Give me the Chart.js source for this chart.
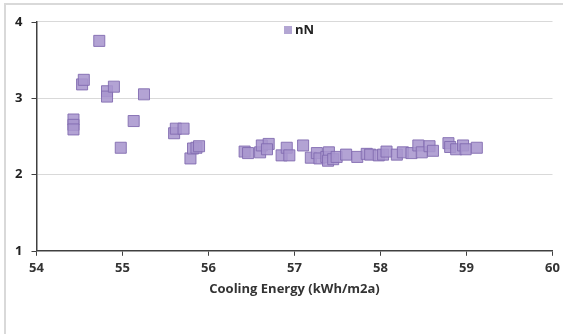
<!DOCTYPE html>
<html>
<head>
<meta charset="utf-8">
<script src="https://cdn.jsdelivr.net/npm/chart.js@4.4.1/dist/chart.umd.min.js"></script>
<style>
html,body{margin:0;padding:0;background:#fff;}
#wrap{position:absolute;left:0;top:0;width:563px;height:334px;}
</style>
</head>
<body>
<div id="wrap"><canvas id="c" width="563" height="334"></canvas></div>
<script>
const seriesLabel = "nN";
const xTitle = "Cooling Energy (kWh/m2a)";
const coolingEnergy = [54.43,54.43,54.43,54.53,54.55,54.73,54.82,54.82,54.90,54.98,55.13,55.25,55.60,55.62,55.71,55.79,55.82,55.86,55.89,56.42,56.46,56.60,56.62,56.70,56.68,56.85,56.91,56.94,57.10,57.19,57.26,57.29,57.37,57.40,57.39,57.45,57.49,57.60,57.73,57.84,57.88,57.98,58.03,58.07,58.19,58.26,58.36,58.44,58.48,58.57,58.61,58.79,58.81,58.88,58.96,58.99,59.12];
const nNValues =      [2.72,2.65,2.59,3.18,3.24,3.75,3.09,3.02,3.15,2.35,2.70,3.05,2.54,2.60,2.60,2.21,2.34,2.35,2.37,2.30,2.28,2.29,2.38,2.40,2.33,2.25,2.35,2.25,2.38,2.22,2.28,2.21,2.23,2.29,2.18,2.20,2.23,2.26,2.23,2.27,2.26,2.25,2.26,2.30,2.26,2.29,2.28,2.38,2.29,2.37,2.31,2.41,2.36,2.33,2.38,2.33,2.35];
const xTicks = [54,55,56,57,58,59,60];
const yTicks = [1,2,3,4];

const points = coolingEnergy.map((x,i)=>({x:x,y:nNValues[i]}));

const framePlugin = {
  id:'frame',
  beforeDraw(chart){
    const ctx = chart.ctx;
    ctx.save();
    ctx.fillStyle='#fff';
    ctx.fillRect(0,0,chart.width,chart.height);
    ctx.strokeStyle='#d9d9d9';
    ctx.lineWidth=2;
    ctx.strokeRect(5,4,chart.width+10,chart.height+10);
    ctx.restore();
  }
};

const legendPlugin = {
  id:'inlineLegend',
  afterDraw(chart){
    const ctx = chart.ctx, ds = chart.data.datasets[0];
    ctx.save();
    ctx.fillStyle='#b3a6d3';
    ctx.fillRect(284,26,8,8);
    ctx.fillStyle='#222';
    ctx.font='bold 13px "Open Sans"';
    ctx.textBaseline='middle';
    ctx.textAlign='left';
    ctx.fillText(ds.label,295,30);
    ctx.restore();
  }
};

new Chart(document.getElementById('c'),{
  type:'scatter',
  data:{datasets:[{
    label:seriesLabel,
    data:points,
    pointStyle:'rect',
    pointRadius:7.8,
    pointHoverRadius:7.8,
    backgroundColor:'rgba(168,150,206,0.88)',
    borderColor:'rgba(130,108,176,0.9)',
    borderWidth:1
  }]},
  options:{
    responsive:false,
    animation:false,
    devicePixelRatio:1,
    layout:{padding:{left:8,top:19,right:10.5,bottom:37}},
    plugins:{
      legend:{display:false},
      tooltip:{enabled:false}
    },
    scales:{
      x:{
        type:'linear',min:54,max:60,
        afterBuildTicks(s){s.ticks=xTicks.map(v=>({value:v}));},
        afterFit(s){s.paddingRight=0;s.paddingLeft=0;},
        grid:{display:true,drawOnChartArea:false,drawTicks:true,tickLength:5,color:'#404040',lineWidth:1},
        border:{display:true,color:'#404040',width:1.5},
        ticks:{color:'#333',padding:5,font:{family:'Open Sans',size:13,weight:'bold'}},
        title:{display:true,text:xTitle,color:'#333',padding:{top:0,bottom:0},font:{family:'Open Sans',size:13,weight:'bold'}}
      },
      y:{
        type:'linear',min:1,max:4,
        afterBuildTicks(s){s.ticks=yTicks.map(v=>({value:v}));},
        afterFit(s){s.width=28.5;},
        grid:{color(ctx){return ctx.tick && ctx.tick.value===1?'rgba(0,0,0,0)':'#d9d9d9';},lineWidth:1,drawTicks:false},
        border:{display:true,color:'#404040',width:1.5},
        ticks:{color:'#222',padding:14,font:{family:'Open Sans',size:13,weight:'bold'}}
      }
    }
  },
  plugins:[framePlugin,legendPlugin,{
    id:'yticks',
    afterDraw(chart){
      const y=chart.scales.y, ctx=chart.ctx, left=chart.chartArea.left;
      ctx.save();ctx.strokeStyle='#404040';ctx.lineWidth=1;
      yTicks.forEach(v=>{const py=Math.round(y.getPixelForValue(v))+0.5;ctx.beginPath();ctx.moveTo(left-5,py);ctx.lineTo(left,py);ctx.stroke();});
      ctx.restore();
    }
  }]
});
</script>
</body>
</html>
